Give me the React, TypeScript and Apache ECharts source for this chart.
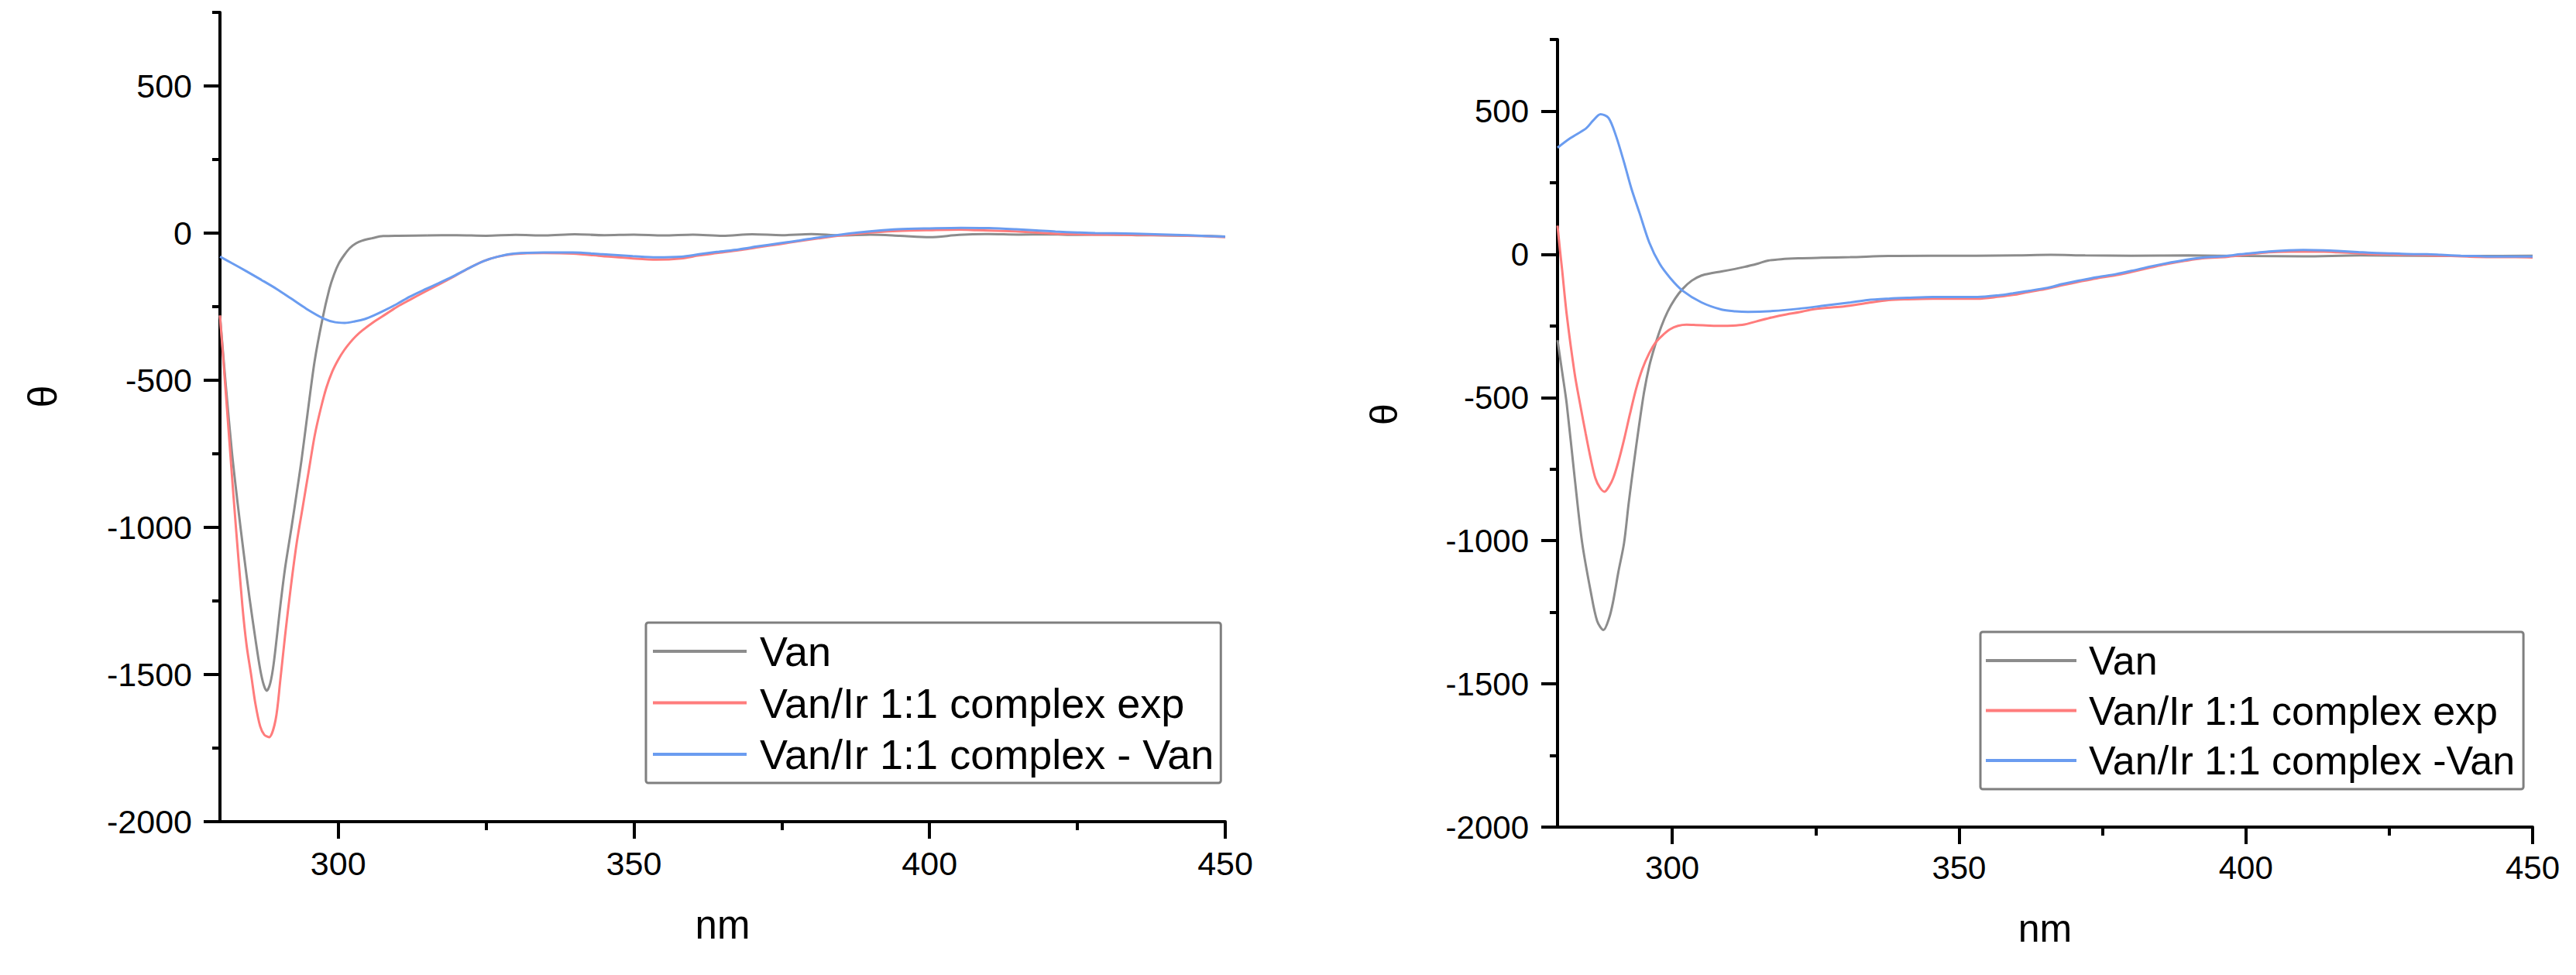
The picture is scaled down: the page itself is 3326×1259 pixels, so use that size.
import React, { useEffect, useRef } from "react";
import * as echarts from "echarts";

// ---------- data ----------
const X_MIN = 280;
const X_MAX = 450;
const Y_MIN = -2000;
const Y_MAX = 750;
const X_MAJOR = [300, 350, 400, 450];
const X_MINOR = [325, 375, 425];
const Y_MAJOR = [-2000, -1500, -1000, -500, 0, 500];
const Y_MINOR = [-1750, -1250, -750, -250, 250, 750];

const LEFT_NAMES = ["Van", "Van/Ir 1:1 complex exp", "Van/Ir 1:1 complex - Van"];
const RIGHT_NAMES = ["Van", "Van/Ir 1:1 complex exp", "Van/Ir 1:1 complex -Van"];
const X_TITLE = "nm";
const Y_TITLE = "θ";

const COLORS = ["#8c8c8c", "#ff7c7c", "#6a9cf0"];

// Left panel
const leftVan: [number, number][] = [
  [280, -280], [281, -520], [282, -740], [283, -920], [284, -1085], [285, -1240],
  [286, -1380], [286.8, -1482], [287.4, -1535], [287.9, -1555], [288.5, -1530], [289.1, -1461],
  [290.2, -1268], [291, -1140], [292.1, -1000], [293, -880], [293.8, -770], [294.8, -615],
  [296, -436], [297.3, -295], [298.5, -190], [299.3, -140], [300.1, -103], [301, -75],
  [302, -50], [303, -35], [304, -26], [305.6, -18], [307.6, -10], [315, -8], [320, -7],
  [325, -9], [330, -6], [335, -8], [340, -4], [345, -7], [350, -5], [355, -8], [360, -5],
  [365, -9], [370, -4], [375, -7], [380, -3], [385, -8], [390, -5], [395, -9], [400, -14],
  [405, -6], [410, -3], [415, -5], [420, -4], [425, -6], [430, -5], [435, -7], [440, -8],
  [445, -9], [450, -12],
];
const leftExp: [number, number][] = [
  [280, -280], [281, -545], [281.9, -790], [282.7, -1000], [283.8, -1268], [284.5, -1400],
  [285.3, -1505], [286, -1600], [286.8, -1676], [287.5, -1705], [288.3, -1713], [289.4, -1655],
  [290.2, -1520], [291, -1370], [292, -1200], [293, -1050], [294, -930], [295, -810],
  [296, -690], [297, -600], [298, -525], [299, -470], [300, -430], [301, -398], [302, -372],
  [303, -350], [304, -332], [306, -302], [308, -276], [310, -250], [312, -228], [314.6, -200],
  [317, -175], [319.6, -147], [322, -120], [324.6, -95], [327, -80], [329.7, -71],
  [334.7, -68], [339.7, -70], [344.7, -78], [349.8, -86], [353.8, -90], [358, -86],
  [361, -76], [364, -68], [367.8, -58], [371, -48], [374.5, -38], [378, -27], [381.2, -18],
  [385, -8], [387.9, -2], [391, 3], [394.6, 7], [400, 10], [405, 12], [408, 10],
  [414.6, 6], [418, 2], [421.3, -2], [425, -4], [428, -5], [434.7, -6], [441.4, -8],
  [446, -10], [450, -14],
];
const leftDiff: [number, number][] = [
  [280, -80], [282, -102], [284.5, -130], [287, -159], [289.6, -190], [292, -222],
  [294.6, -257], [297.6, -291], [299.5, -303], [301.1, -305], [302.8, -300], [304.5, -292],
  [306, -280], [307.6, -265], [310, -240], [312.1, -216], [314.6, -192], [317, -170],
  [319.6, -145], [322, -120], [324.6, -95], [327, -80], [329.7, -70], [334.7, -66],
  [339.7, -66], [344.7, -72], [349.8, -78], [353.8, -82], [358, -80], [361, -72],
  [364, -64], [367.8, -55], [371, -45], [374.5, -35], [378, -25], [381.2, -15], [385, -5],
  [387.9, 2], [391, 8], [394.6, 13], [400, 16], [405.3, 18], [410, 17], [414.6, 13],
  [418, 9], [421.3, 5], [425, 2], [428, 0], [434.7, -2], [441.4, -6], [446, -9], [450, -12],
];

// Right panel
const rightVan: [number, number][] = [
  [280, -300], [280.8, -410], [281.6, -522], [283, -782], [284.3, -1008], [285.8, -1179],
  [286.9, -1280], [288, -1312], [289, -1270], [289.7, -1212], [290.6, -1110], [291.6, -1008],
  [292.4, -870], [293.3, -731], [294.2, -600], [295.1, -480], [296, -390], [297, -318],
  [298.1, -252], [299.2, -200], [300.5, -155], [301.8, -121], [303.4, -92], [305.1, -74],
  [306.8, -66], [308.6, -60], [312.6, -44], [315, -32], [316.7, -22], [319, -17], [322, -14],
  [326, -12], [331, -10], [337.7, -6], [345, -5], [353, -5], [360, -4], [366, -2], [372, -4],
  [380, -5], [390, -4], [400, -6], [410, -7], [420, -4], [430, -5], [440, -6], [450, -5],
];
const rightExp: [number, number][] = [
  [280, 100], [280.4, 20], [280.8, -54], [281.6, -210], [283, -418], [284, -530],
  [284.9, -625], [285.8, -715], [286.6, -782], [287.4, -815], [288.2, -829], [289, -810],
  [289.7, -782], [290.6, -725], [291.6, -647], [292.6, -560], [293.7, -470], [294.8, -400],
  [296, -345], [297.1, -308], [298.3, -283], [299.6, -262], [301, -250], [302.5, -246],
  [304.1, -247], [306.5, -249], [308.6, -250], [310.5, -249], [312.6, -245], [314, -238],
  [315.3, -231], [317.5, -220], [319.9, -210], [322.2, -202], [324.3, -193], [327, -187],
  [329.9, -182], [334, -170], [337.7, -160], [341, -157], [345.4, -155], [349, -155],
  [353.2, -155], [357, -148], [359.4, -142], [362, -132], [365.4, -120], [368, -108],
  [371.4, -94], [374, -84], [377.4, -73], [380, -62], [383.5, -46], [386, -35], [389.4, -23],
  [392.5, -14], [396.7, -9], [399, -4], [401.6, 2], [404, 7], [407.5, 9], [410, 9],
  [413.6, 9], [416, 7], [419.5, 4], [422, 1], [425.6, -1], [428, -2], [431.6, -3], [434, -5],
  [437.5, -7], [440, -9], [443.6, -10], [447, -10], [450, -11],
];
const rightDiff: [number, number][] = [
  [280, 372], [282.2, 405], [285, 440], [286.2, 467], [287.5, 489], [288.9, 476],
  [290.2, 413], [291.6, 321], [292.9, 228], [294.3, 144], [296, 41], [297.8, -33],
  [299.7, -84], [301.8, -127], [305.1, -168], [308.6, -193], [311, -199], [313.2, -201],
  [317.6, -198], [322.1, -190], [326.6, -179], [331.1, -168], [334, -160], [337.7, -155],
  [341, -152], [345.4, -149], [349, -149], [353.2, -149], [357, -143], [359.4, -136],
  [362, -128], [365.4, -117], [368, -104], [371.4, -90], [374, -80], [377.4, -69], [380, -58],
  [383.5, -42], [386, -32], [389.4, -20], [392.5, -11], [396.7, -6], [399, 0], [401.6, 5],
  [404, 10], [407.5, 14], [410, 15], [413.6, 14], [416, 12], [419.5, 8], [422, 5],
  [425.6, 3], [428, 1], [431.6, 0], [434, -2], [437.5, -5], [440, -6], [443.6, -8],
  [447, -8], [450, -8],
];

const FONT = "'Liberation Sans', Arial, 'DejaVu Sans', sans-serif";
const plain = (v: number) => String(v);

function makeX(gridIndex: number, fs: number, margin: number, nameGap: number, nameFs: number) {
  const common = {
    type: "value",
    gridIndex,
    min: X_MIN,
    max: X_MAX,
    position: "bottom",
    splitLine: { show: false },
  };
  return [
    {
      ...common,
      name: X_TITLE,
      nameLocation: "middle",
      nameGap,
      nameMoveOverlap: false,
      nameTextStyle: { fontFamily: FONT, fontSize: nameFs, color: "#000" },
      axisLine: { show: true, onZero: false, lineStyle: { color: "#000", width: 4 } },
      axisTick: { show: true, inside: false, length: 22, customValues: X_MAJOR, lineStyle: { color: "#000", width: 4 } },
      axisLabel: { show: true, margin, customValues: X_MAJOR, formatter: plain, fontFamily: FONT, fontSize: fs, color: "#000" },
    },
    {
      ...common,
      axisLine: { show: false, onZero: false },
      axisTick: { show: true, inside: false, length: 11, customValues: X_MINOR, lineStyle: { color: "#000", width: 4 } },
      axisLabel: { show: false },
    },
  ];
}

function makeY(gridIndex: number, fs: number, margin: number) {
  const common = {
    type: "value",
    gridIndex,
    min: Y_MIN,
    max: Y_MAX,
    position: "left",
    splitLine: { show: false },
  };
  return [
    {
      ...common,
      axisLine: { show: true, onZero: false, lineStyle: { color: "#000", width: 4 } },
      axisTick: { show: true, inside: false, length: 21, customValues: Y_MAJOR, lineStyle: { color: "#000", width: 4 } },
      axisLabel: { show: true, margin, customValues: Y_MAJOR, formatter: plain, fontFamily: FONT, fontSize: fs, color: "#000" },
    },
    {
      ...common,
      axisLine: { show: false, onZero: false },
      axisTick: { show: true, inside: false, length: 10, customValues: Y_MINOR, lineStyle: { color: "#000", width: 4 } },
      axisLabel: { show: false },
    },
  ];
}

function line(name: string, data: [number, number][], color: string, xIdx: number, yIdx: number) {
  return {
    type: "line",
    name,
    data,
    xAxisIndex: xIdx,
    yAxisIndex: yIdx,
    symbol: "none",
    showSymbol: false,
    smooth: 0.3,
    lineStyle: { color, width: 3 },
    itemStyle: { color },
    emphasis: { disabled: true },
  };
}

function makeLegend(names: string[], left: number, top: number, fs: number, itemWidth: number, pad: number[], textPad: number, gap: number) {
  return {
    show: true,
    orient: "vertical",
    left,
    top,
    data: names,
    padding: pad,
    itemGap: gap,
    itemWidth,
    itemHeight: 4,
    icon: "rect",
    borderColor: "#7f7f7f",
    borderWidth: 3,
    borderRadius: 3,
    backgroundColor: "#fff",
    selectedMode: false,
    textStyle: { fontFamily: FONT, fontSize: fs, color: "#000", padding: [0, 0, 0, textPad], lineHeight: fs },
  };
}

export default function App() {
  const ref = useRef<HTMLDivElement>(null);
  useEffect(() => {
    if (!ref.current) return;
    const chart = echarts.init(ref.current, null, { renderer: "svg" });
    const option = {
      animation: false,
      backgroundColor: "#fff",
      grid: [
        { left: 284, top: 16, width: 1298, height: 1045, outerBoundsMode: "none", containLabel: false },
        { left: 2011, top: 51, width: 1259, height: 1017, outerBoundsMode: "none", containLabel: false },
      ],
      xAxis: [...makeX(0, 43, 32, 108, 51), ...makeX(1, 42, 31, 106, 50)],
      yAxis: [...makeY(0, 43, 36), ...makeY(1, 42, 37)],
      legend: [
        makeLegend(LEFT_NAMES, 834, 804, 54, 121, [10, 9, 10, 9], 12, 12.5),
        makeLegend(RIGHT_NAMES, 2557, 816, 52, 117, [11, 11, 11, 7], 11, 12.5),
      ],
      graphic: [
        {
          type: "text",
          x: 55,
          y: 512,
          rotation: Math.PI / 2,
          style: { text: Y_TITLE, fontFamily: FONT, fontSize: 52, fill: "#000", align: "center", verticalAlign: "middle" },
        },
        {
          type: "text",
          x: 1787,
          y: 535,
          rotation: Math.PI / 2,
          style: { text: Y_TITLE, fontFamily: FONT, fontSize: 50, fill: "#000", align: "center", verticalAlign: "middle" },
        },
      ],
      series: [
        line(LEFT_NAMES[0], leftVan, COLORS[0], 0, 0),
        line(LEFT_NAMES[1], leftExp, COLORS[1], 0, 0),
        line(LEFT_NAMES[2], leftDiff, COLORS[2], 0, 0),
        line(RIGHT_NAMES[0], rightVan, COLORS[0], 2, 2),
        line(RIGHT_NAMES[1], rightExp, COLORS[1], 2, 2),
        line(RIGHT_NAMES[2], rightDiff, COLORS[2], 2, 2),
      ],
    };
    chart.setOption(option as any);
    return () => chart.dispose();
  }, []);
  return (
    <div
      ref={ref}
      style={{ position: "absolute", left: 0, top: 0, width: 3326, height: 1259, background: "#fff" }}
    />
  );
}
